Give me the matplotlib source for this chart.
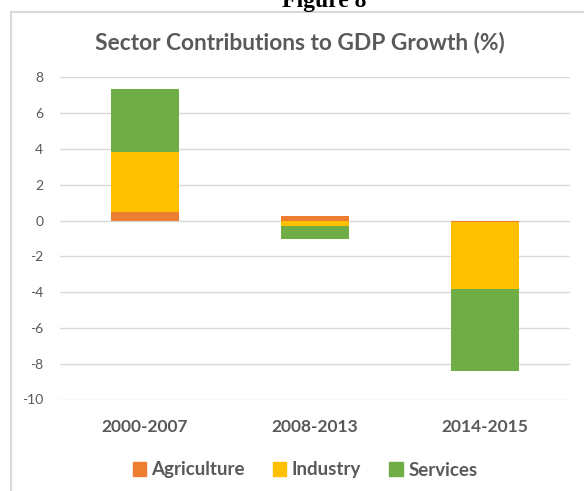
import numpy as np
import matplotlib.pyplot as plt
from matplotlib.patches import Rectangle, Patch

periods = ["2000-2007", "2008-2013", "2014-2015"]
sectors = ["Agriculture", "Industry", "Services"]
agriculture = [0.5, 0.25, -0.1]
industry = [3.35, -0.3, -3.75]
services = [3.5, -0.75, -4.55]
colors = ["#ED7D31", "#FFC000", "#70AD47"]

text_col = "#595959"
grid_col = "#d9d9d9"
font = "Lato"
plt.rcParams["axes.unicode_minus"] = False

fig = plt.figure(figsize=(5.84, 4.91), dpi=100)
ax = fig.add_axes([60/584, 1-399.5/491, 510/584, 322.2/491])

# stack positives up from zero and negatives down from zero
x = np.arange(len(periods))
pos_base = np.zeros(len(periods))
neg_base = np.zeros(len(periods))
for name, vals, c in zip(sectors, [agriculture, industry, services], colors):
    vals = np.array(vals)
    bottom = np.where(vals >= 0, pos_base, neg_base)
    ax.bar(x, vals, width=0.4, bottom=bottom, color=c, zorder=3)
    pos_base += np.where(vals >= 0, vals, 0)
    neg_base += np.where(vals < 0, vals, 0)

ax.set_xlim(-0.5, 2.5)
ax.set_ylim(-10, 8)
ax.set_yticks(np.arange(-10, 9, 2))
ax.set_xticks(x)
ax.set_xticklabels(periods, fontsize=12.5, color=text_col, family=font, fontweight="bold")
for lab in ax.get_yticklabels():
    lab.set_family(font)
ax.tick_params(axis="y", length=0, pad=12, labelsize=10, labelcolor=text_col)
ax.tick_params(axis="x", length=0, pad=14)
ax.grid(axis="y", color=grid_col, linewidth=1, zorder=0)
for s in ax.spines.values():
    s.set_visible(False)

ax.set_title("Sector Contributions to GDP Growth (%)", fontsize=16.4, color=text_col,
             family=font, fontweight="bold", x=(300-60)/510, y=1, pad=20)

handles = [Patch(color=c, label=n) for n, c in zip(sectors, colors)]
fig.legend(handles=handles, loc="center", bbox_to_anchor=(305/584, 1-470/491), ncol=3,
           frameon=False, prop={"family": font, "weight": "bold", "size": 13.5},
           labelcolor=text_col, handlelength=0.7, handleheight=0.7,
           handletextpad=0.3, columnspacing=1.5)

# chart frame and page caption
fig.patches.append(Rectangle((11/584, -0.05), 1.1, 1.05-12.5/491, transform=fig.transFigure,
                             fill=False, edgecolor="#d9d9d9", linewidth=1.5))
fig.text(324/584, 1-7/491, "Figure 8", ha="center", va="baseline", fontsize=17,
         family="Liberation Serif", fontweight="bold")

fig.savefig("out.png", dpi=100)
